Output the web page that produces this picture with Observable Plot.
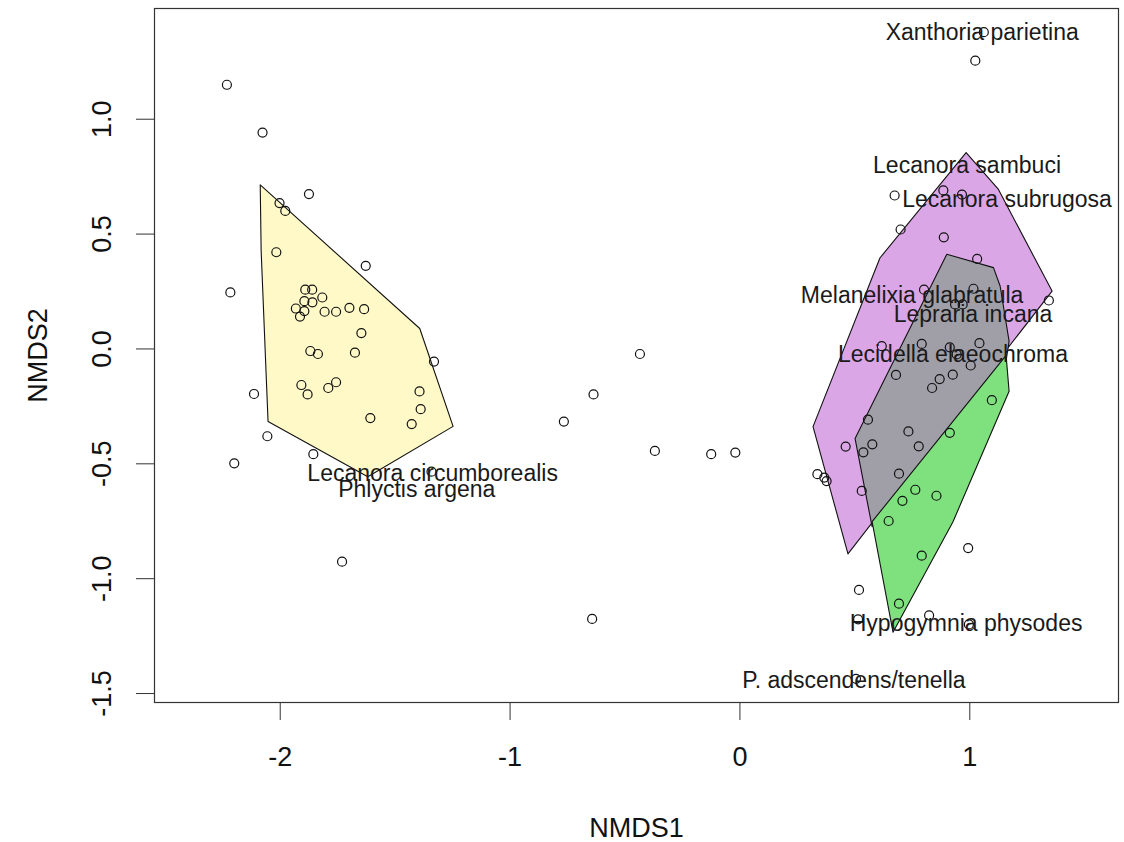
<!DOCTYPE html>
<html><head><meta charset="utf-8">
<script src="https://cdn.jsdelivr.net/npm/d3@7"></script>
<script src="https://cdn.jsdelivr.net/npm/@observablehq/plot@0.6"></script>
<style>body{margin:0;background:#fff} svg{display:block}</style>
</head><body><div id="chart"></div>
<script>
// Site scores (NMDS1, NMDS2)
const siteX = [-2.232,-2.077,-1.875,-2.003,-1.978,-2.017,-1.628,-2.217,-1.891,-1.861,-1.817,-1.895,-1.860,-1.932,-1.895,-1.807,-1.757,-1.699,-1.635,-1.914,-1.647,-1.869,-1.836,-1.675,-1.331,-1.908,-1.881,-1.791,-1.757,-2.114,-1.394,-1.389,-1.608,-1.428,-2.056,-1.856,-2.200,-1.731,-1.342,
  -0.435,-0.637,-0.766,-0.370,-0.125,-0.020,-0.643,
  1.061,1.024,0.673,0.885,0.966,0.699,0.887,1.032,0.801,1.016,0.936,0.969,1.344,0.617,0.791,0.913,1.042,0.943,1.004,0.679,0.869,0.836,0.926,1.096,0.557,0.733,0.913,0.460,0.576,0.537,0.778,0.337,0.367,0.377,0.692,0.530,0.763,0.855,0.707,0.647,0.993,0.791,0.518,0.692,0.823,0.514,0.996,0.505];
const siteY = [1.150,0.942,0.674,0.635,0.601,0.421,0.362,0.246,0.258,0.258,0.224,0.208,0.203,0.176,0.165,0.162,0.162,0.179,0.173,0.141,0.069,-0.009,-0.022,-0.016,-0.055,-0.157,-0.198,-0.170,-0.145,-0.196,-0.185,-0.262,-0.301,-0.327,-0.380,-0.458,-0.498,-0.926,-0.534,
  -0.022,-0.198,-0.316,-0.444,-0.458,-0.451,-1.175,
  1.379,1.255,0.668,0.690,0.672,0.520,0.486,0.392,0.258,0.262,0.194,0.194,0.211,0.012,0.022,0.007,0.025,-0.024,-0.072,-0.113,-0.131,-0.170,-0.112,-0.223,-0.308,-0.359,-0.365,-0.425,-0.415,-0.450,-0.424,-0.545,-0.560,-0.575,-0.543,-0.618,-0.613,-0.639,-0.661,-0.749,-0.867,-0.900,-1.049,-1.109,-1.160,-1.177,-1.199,-1.436];

// Species labels
const speciesNames = ["Xanthoria parietina","Lecanora sambuci","Lecanora subrugosa","Melanelixia glabratula","Lepraria incana","Lecidella elaeochroma","Lecanora circumborealis","Phlyctis argena","Hypogymnia physodes","P. adscendens/tenella"];
const speciesX = [1.054,0.988,1.162,0.749,1.014,0.927,-1.337,-1.406,0.984,0.496];
const speciesY = [1.379,0.798,0.649,0.230,0.151,-0.023,-0.542,-0.612,-1.194,-1.442];

// Group hulls
const hullYellowX = [-2.087,-2.083,-2.053,-1.619,-1.248,-1.393];
const hullYellowY = [0.714,0.427,-0.316,-0.556,-0.337,0.089];
const hullPurpleX = [0.984,1.123,1.358,0.470,0.318,0.609];
const hullPurpleY = [0.855,0.697,0.252,-0.892,-0.338,0.396];
const hullGreyX = [0.900,1.103,1.132,1.171,1.154,0.575,0.501];
const hullGreyY = [0.412,0.354,0.274,0.034,-0.076,-0.774,-0.390];
const hullGreenX = [1.158,1.171,0.927,0.666,0.575];
const hullGreenY = [-0.028,-0.184,-0.752,-1.233,-0.752];

const xTicks = [-2,-1,0,1];
const yTicks = [-1.5,-1.0,-0.5,0.0,0.5,1.0];

const pts = (xs, ys) => xs.map((x,i)=>({x, y: ys[i]}));
const sites = pts(siteX, siteY);
const species = speciesNames.map((n,i)=>({name:n, x:speciesX[i], y:speciesY[i]}));

const hull = (xs, ys, color) => Plot.line(pts(xs, ys), {x:"x", y:"y", curve:"linear-closed", fill: color, stroke:"#111", strokeWidth:1.1});

const font = "'Liberation Sans', Arial, sans-serif";

const chart = Plot.plot({
  width: 1124, height: 842,
  marginLeft: 154, marginRight: 6, marginTop: 8, marginBottom: 140,
  style: {fontFamily: font, background: "#fff", color: "#111"},
  x: {domain: [-2.547, 1.647], axis: null},
  y: {domain: [-1.539, 1.482], axis: null},
  marks: [
    hull(hullYellowX, hullYellowY, "#FFF9C8"),
    hull(hullPurpleX, hullPurpleY, "#DBA6E6"),
    hull(hullGreyX, hullGreyY, "#A09FA8"),
    hull(hullGreenX, hullGreenY, "#7EE17E"),
    Plot.dot(sites, {x:"x", y:"y", r:4.5, stroke:"#111", strokeWidth:1.2, fill:"none"}),
    Plot.text(species, {x:"x", y:"y", text:"name", fontSize:23, fill:"#1a1a1a", textAnchor:"middle", lineAnchor:"middle"}),
    Plot.frame({stroke:"#333", strokeWidth:1.2}),
    Plot.axisX({ticks: xTicks, tickSize: 18, fill: "none", label: null, stroke:"#333"}),
    Plot.axisY({ticks: yTicks, tickSize: 18, fill: "none", label: null, stroke:"#333"}),
    Plot.text(xTicks, {x: d=>d, frameAnchor:"bottom", dy: 55, text: d=>String(d), fontSize:27, lineAnchor:"middle", fill:"#111"}),
    Plot.text(yTicks, {y: d=>d, frameAnchor:"left", dx: -52, rotate: -90, text: d=>d.toFixed(1), fontSize:27, textAnchor:"middle", lineAnchor:"middle", fill:"#111"}),
    Plot.text(["NMDS1"], {frameAnchor:"bottom", dy: 126, text: d=>d, fontSize:27, lineAnchor:"middle", fill:"#111"}),
    Plot.text(["NMDS2"], {frameAnchor:"left", dx: -116, rotate:-90, text: d=>d, fontSize:27, textAnchor:"middle", lineAnchor:"middle", fill:"#111"})
  ]
});
document.getElementById("chart").appendChild(chart);
</script>
</body></html>
